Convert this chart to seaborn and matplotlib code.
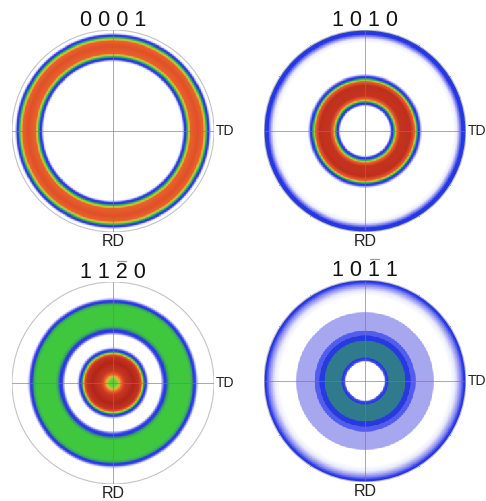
import numpy as np
import matplotlib
matplotlib.use("Agg")
import matplotlib.pyplot as plt
from matplotlib.colors import LinearSegmentedColormap
from matplotlib.patches import Circle
from matplotlib.lines import Line2D
import seaborn as sns

sns.set_theme(style="white")
plt.rcParams["font.family"] = ["Liberation Sans", "DejaVu Sans"]

# Pole figure titles (Miller-Bravais indices) and the digit carrying an overbar
titles = ["0 0 0 1", "1 0 1 0", "1 1 2 0", "1 0 1 1"]
bar_digit = [None, None, 2, 2]

# Radial intensity profiles (radius as a fraction of the projection circle)
r_0001 = [0.0, 0.68, 0.695, 0.705, 0.72, 0.735, 0.75, 0.77, 0.84, 0.89, 0.91, 0.925,
          0.94, 0.952, 0.962, 0.975, 1.0]
i_0001 = [0.0, 0.0, 0.10, 0.22, 0.26, 0.40, 0.55, 0.70, 0.75, 0.70, 0.55, 0.40,
          0.26, 0.22, 0.10, 0.0, 0.0]

r_1010 = [0.0, 0.24, 0.25, 0.26, 0.275, 0.29, 0.31, 0.35, 0.45, 0.49, 0.51, 0.525,
          0.54, 0.555, 0.57, 0.87, 0.91, 0.94, 0.96, 1.0]
i_1010 = [0.0, 0.0, 0.10, 0.22, 0.26, 0.42, 0.65, 0.88, 0.90, 0.70, 0.45, 0.27,
          0.22, 0.10, 0.0, 0.0, 0.06, 0.17, 0.25, 0.27]

r_1120 = [0.0, 0.04, 0.08, 0.12, 0.20, 0.26, 0.285, 0.30, 0.315, 0.33, 0.345, 0.36,
          0.47, 0.485, 0.50, 0.525, 0.545, 0.57, 0.76, 0.785, 0.80, 0.82, 0.835, 0.85, 1.0]
i_1120 = [0.47, 0.50, 0.66, 0.86, 0.95, 0.88, 0.65, 0.45, 0.27, 0.22, 0.10, 0.0,
          0.0, 0.10, 0.22, 0.27, 0.40, 0.45, 0.45, 0.40, 0.27, 0.22, 0.10, 0.0, 0.0]

r_1011 = [0.0, 0.185, 0.20, 0.225, 0.235, 0.395, 0.405, 0.445, 0.455, 0.495, 0.505, 0.675,
          0.69, 0.84, 0.90, 0.95, 0.975, 1.0]
i_1011 = [0.0, 0.0, 0.22, 0.26, 0.34, 0.34, 0.26, 0.26, 0.21, 0.21, 0.13, 0.13,
          0.0, 0.0, 0.07, 0.17, 0.24, 0.27]

profiles = [(r_0001, i_0001), (r_1010, i_1010), (r_1120, i_1120), (r_1011, i_1011)]

# Intensity colour scale: white -> blue -> green -> red
cmap = LinearSegmentedColormap.from_list("pole", [
    (0.00, "#ffffff"), (0.05, "#eeeefc"), (0.13, "#a6a6f0"), (0.20, "#5a64ee"),
    (0.25, "#2633e6"), (0.34, "#2f7a8e"), (0.45, "#3ec83e"), (0.55, "#a8d43a"),
    (0.62, "#f0a030"), (0.68, "#ea6a2a"), (0.75, "#e0502a"), (0.88, "#c43420"),
    (1.00, "#a41c14"),
])

W, H = 486, 501
fig = plt.figure(figsize=(W / 100, H / 100), dpi=100)
renderer = fig.canvas.get_renderer()

# panel centres and radius in pixels
centres = [(113, 131), (365, 131), (113, 383), (365, 381)]
R = 101

N = 300
g = (np.arange(N) + 0.5) / N * 2 - 1
xx, yy = np.meshgrid(g, g)
rr = np.hypot(xx, yy)
outside = rr > 1.0
s = N / (2 * R)  # cells per pixel

title_fs = 15.5
for (cx, cy), title, bar, (rad, inten) in zip(centres, titles, bar_digit, profiles):
    ax = fig.add_axes([(cx - R) / W, (H - cy - R) / H, 2 * R / W, 2 * R / H])
    field = np.interp(rr, rad, inten)
    sns.heatmap(field, mask=outside, cmap=cmap, vmin=0, vmax=1, cbar=False,
                xticklabels=False, yticklabels=False, ax=ax)
    ax.set_axis_off()
    c = N / 2
    ax.add_patch(Circle((c, c), N / 2, fill=False, ec="#c4c4c4", lw=0.8, zorder=5))
    ax.plot([0, N], [c, c], color="#7a7a7a", lw=0.6, alpha=0.75, zorder=6)
    ax.plot([c, c], [0, N], color="#7a7a7a", lw=0.6, alpha=0.75, zorder=6)
    ax.text(N + 1.5 * s, c, "TD", ha="left", va="center", fontsize=10,
            color="#222222", clip_on=False)
    ax.text(c, N + 2 * s, "RD", ha="center", va="top", fontsize=11.5,
            color="#222222", clip_on=False)
    t = ax.text(c, -4 * s, title, ha="center", va="baseline", fontsize=title_fs,
                color="#111111", clip_on=False)
    if bar is not None:
        # overbar above one digit of the index
        idx = 2 * bar
        bb = t.get_window_extent(renderer)
        probe = fig.text(0, 0, title[:idx], fontsize=title_fs)
        w0 = probe.get_window_extent(renderer).width if idx > 0 else 0.0
        probe.set_text(title[:idx + 1])
        w1 = probe.get_window_extent(renderer).width
        probe.remove()
        x0, x1 = bb.x0 + w0 + 1.5, bb.x0 + w1 - 1.5
        yb = bb.y1 + 1.0
        fig.add_artist(Line2D([x0 / W, x1 / W], [yb / H, yb / H], color="#9a9a9a",
                              lw=0.9, transform=fig.transFigure))

fig.savefig("out.png", dpi=100)
